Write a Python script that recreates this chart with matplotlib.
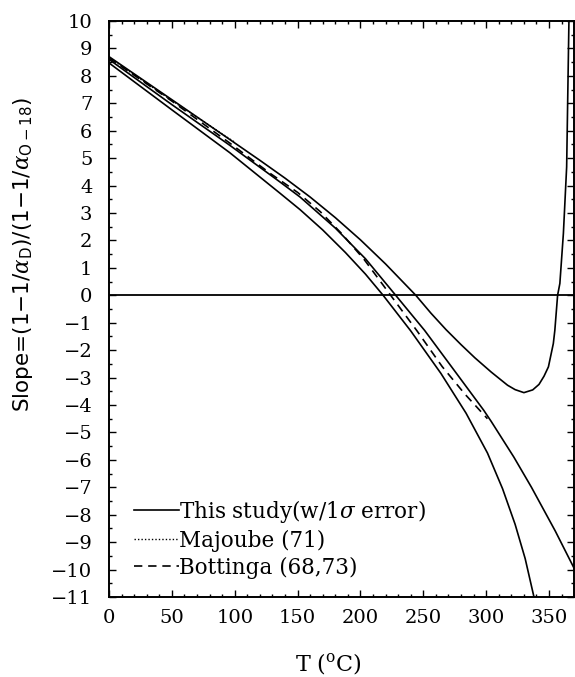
import numpy as np
import matplotlib
matplotlib.use('Agg')
import matplotlib.pyplot as plt
from matplotlib.ticker import MultipleLocator

# curves (T in degC, slope)
T_upper = [0, 50, 96, 120, 140, 160, 180, 200, 220, 244, 256, 268, 280, 291, 304, 317, 323, 330, 337, 342, 346, 349.5, 353.4, 354.6, 356.8, 358.6, 361.4, 364, 365.8, 366.5]
s_upper = [8.70, 7.13, 5.68, 4.92, 4.27, 3.58, 2.83, 2.02, 1.14, 0.0, -0.65, -1.25, -1.80, -2.28, -2.80, -3.28, -3.44, -3.55, -3.45, -3.25, -2.95, -2.61, -1.76, -1.28, 0.0, 0.43, 2.25, 4.68, 9.96, 10.5]

T_mid = [0, 50, 96, 136, 152, 180, 204, 228, 251, 278, 298, 304, 322, 336, 355, 371]
s_mid = [8.60, 6.95, 5.47, 4.13, 3.58, 2.45, 1.33, 0.0, -1.28, -2.95, -4.19, -4.60, -5.90, -7.00, -8.60, -10.05]

T_low = [0, 50, 96, 136, 152, 170, 188, 204, 218, 240, 264, 284, 301, 313, 323, 331, 338, 339]
s_low = [8.47, 6.76, 5.20, 3.72, 3.12, 2.38, 1.56, 0.77, 0.0, -1.30, -2.85, -4.30, -5.75, -7.05, -8.35, -9.60, -11.0, -11.2]

T_maj = [0, 25, 50, 75, 100]
s_maj = [8.67, 7.88, 7.10, 6.34, 5.58]

T_bot = [0, 50, 96, 128, 150, 168, 185, 203, 224, 245, 265, 283, 301]
s_bot = [8.65, 7.08, 5.55, 4.45, 3.75, 3.05, 2.25, 1.30, 0.0, -1.30, -2.60, -3.60, -4.50]

labels = [r'This study(w/1$\sigma$ error)', 'Majoube (71)', 'Bottinga (68,73)']

plt.rcParams['mathtext.fontset'] = 'dejavuserif'

fig = plt.figure(figsize=(5.75, 6.77), dpi=100)
ax = fig.add_axes([0.1896, 0.1182, 0.8090, 0.8508])

lw = 1.2
l1, = ax.plot(T_mid, s_mid, color='black', lw=lw)
ax.plot(T_upper, s_upper, color='black', lw=lw)
ax.plot(T_low, s_low, color='black', lw=lw)
l2, = ax.plot(T_maj, s_maj, color='black', lw=1.0, ls=(0, (1, 1.5)))
l3, = ax.plot(T_bot, s_bot, color='black', lw=1.2, ls=(0, (5, 3.5)))
ax.axhline(0, color='black', lw=1.3)

ax.set_xlim(0, 370)
ax.set_ylim(-11, 10)
ax.xaxis.set_major_locator(MultipleLocator(50))
ax.xaxis.set_minor_locator(MultipleLocator(10))
ax.yaxis.set_major_locator(MultipleLocator(1))
ax.yaxis.set_minor_locator(MultipleLocator(0.5))
ax.tick_params(which='both', direction='in', top=True, right=True, width=1.0)
ax.tick_params(which='major', length=5)
ax.tick_params(which='minor', length=2.5)
ax.tick_params(axis='y', pad=12)
ax.tick_params(axis='x', pad=9)
for sp in ax.spines.values():
    sp.set_linewidth(1.4)

ax.set_xticks([0, 50, 100, 150, 200, 250, 300, 350])
ax.set_yticks(range(-11, 11))
ax.set_yticklabels([('\u2212' + str(-v)) if v < 0 else str(v) for v in range(-11, 11)])
for t in ax.get_xticklabels() + ax.get_yticklabels():
    t.set_family('DejaVu Serif')
    t.set_fontsize(14)

ax.set_xlabel(r'T ($^\mathrm{o}$C)', family='DejaVu Serif', fontsize=16)
ax.xaxis.set_label_coords(0.472, -0.094)
ax.set_ylabel(r'Slope=(1$-$1/$\alpha_\mathsf{D}$)/(1$-$1/$\alpha_\mathsf{O-18}$)', fontsize=15.5)
ax.yaxis.set_label_coords(-0.16, 0.595)

ax.legend([l1, l2, l3], labels, loc='lower left', bbox_to_anchor=(0.035, 0.017),
          frameon=False, handlelength=2.1, handletextpad=0.0, labelspacing=0.22,
          borderaxespad=0.0, prop={'family': 'DejaVu Serif', 'size': 15.5})

fig.savefig('out.png', dpi=100)
